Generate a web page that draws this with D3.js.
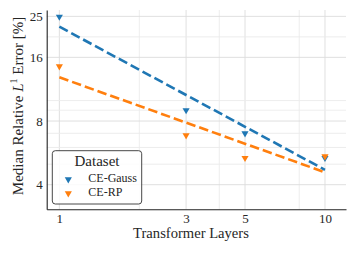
<!DOCTYPE html>
<html>
<head>
<meta charset="utf-8">
<script src="https://cdn.jsdelivr.net/npm/d3@7"></script>
<style>
  body { margin: 0; background: #fff; }
  text { font-family: "Liberation Serif", "DejaVu Serif", serif; fill: #262626; }
</style>
</head>
<body>
<svg id="chart" width="356" height="253"></svg>
<script>
// data
const layers = [1, 3, 5, 10];
const gaussErr = [24.9, 9.0, 7.0, 5.35];
const rpErr = [14.5, 6.85, 5.35, 5.45];
const seriesNames = ["CE-Gauss", "CE-RP"];
const seriesColors = ["#1f77b4", "#ff7f0e"];
const xTicks = [1, 3, 5, 10];
const xGrid = [1, 2, 3, 4, 5, 8, 10];
const yTicks = [4, 8, 16, 25];
const yGrid = [4, 5, 6, 7, 8, 9, 10, 16, 20, 25];

const svg = d3.select("#chart");

const plot = {left: 46.7, right: 346, top: 10, bottom: 209.3};

const x = d3.scaleLog()
    .domain([0.896, 12.0])
    .range([plot.left, plot.right]);

const y = d3.scaleLog()
    .domain([3.06, 26.8])
    .range([plot.bottom, plot.top]);

// grid
svg.append("g").selectAll("line")
    .data(xGrid)
    .enter().append("line")
    .attr("x1", d => x(d)).attr("x2", d => x(d))
    .attr("y1", plot.top).attr("y2", plot.bottom)
    .attr("stroke", d => xTicks.includes(d) ? "#dcdcdc" : "#ebebeb")
    .attr("stroke-width", 0.9);

svg.append("g").selectAll("line")
    .data(yGrid)
    .enter().append("line")
    .attr("x1", plot.left).attr("x2", plot.right)
    .attr("y1", d => y(d)).attr("y2", d => y(d))
    .attr("stroke", d => yTicks.includes(d) ? "#dcdcdc" : "#ebebeb")
    .attr("stroke-width", 0.9);

// axes (no tick marks, just labels)
const xAxis = svg.append("g")
    .attr("transform", `translate(0,${plot.bottom})`)
    .call(d3.axisBottom(x).tickValues(xTicks).tickFormat(d3.format("d")).tickSize(0).tickPadding(4.5));
xAxis.select(".domain").attr("stroke", "#222").attr("stroke-width", 1.1);
xAxis.selectAll("text").style("font-size", "13px").attr("fill", "#262626")
    .style("font-family", "Liberation Serif");

const yAxis = svg.append("g")
    .attr("transform", `translate(${plot.left},0)`)
    .call(d3.axisLeft(y).tickValues(yTicks).tickFormat(d3.format("d")).tickSize(0).tickPadding(4));
yAxis.select(".domain").attr("stroke", "#222").attr("stroke-width", 1.1);
yAxis.selectAll("text").style("font-size", "13px").attr("fill", "#262626")
    .style("font-family", "Liberation Serif");

// power-law fit lines in log-log space
function fitLine(xs, ys){
    const lx = xs.map(Math.log10), ly = ys.map(Math.log10);
    const mx = d3.mean(lx), my = d3.mean(ly);
    const slope = d3.sum(lx, (v, i) => (v - mx) * (ly[i] - my)) / d3.sum(lx, v => (v - mx) ** 2);
    const b = my - slope * mx;
    return [1, 10].map(v => [v, Math.pow(10, b + slope * Math.log10(v))]);
}

const series = [gaussErr, rpErr];
const line = d3.line().x(d => x(d[0])).y(d => y(d[1]));

series.forEach((vals, i) => {
    svg.append("path")
       .datum(fitLine(layers, vals))
       .attr("d", line)
       .attr("fill", "none")
       .attr("stroke", seriesColors[i])
       .attr("stroke-width", 2.6)
       .attr("stroke-dasharray", "9.5,4");
});

const tri = d3.symbol().type(d3.symbolTriangle).size(22);

series.forEach((vals, i) => {
    svg.append("g").selectAll("path")
       .data(vals)
       .enter().append("path")
       .attr("d", tri)
       .attr("transform", (d, j) => `translate(${x(layers[j])},${y(d)}) rotate(180)`)
       .attr("fill", seriesColors[i]);
});

// legend
const legend = svg.append("g").attr("transform", "translate(52.3,150.7)");
legend.append("rect")
      .attr("width", 89.4).attr("height", 53.3)
      .attr("rx", 3)
      .attr("fill", "rgba(255,255,255,0.85)")
      .attr("stroke", "#333")
      .attr("stroke-width", 0.9);
legend.append("text")
      .attr("x", 44.7).attr("y", 15)
      .attr("text-anchor", "middle")
      .style("font-size", "15px")
      .text("Dataset");
seriesNames.forEach((name, i) => {
    legend.append("path")
          .attr("d", tri)
          .attr("transform", `translate(16,${28.6 + i * 14}) rotate(180)`)
          .attr("fill", seriesColors[i]);
    legend.append("text")
          .attr("x", 36).attr("y", 31 + i * 14)
          .style("font-size", "12px")
          .text(name);
});

// axis titles
svg.append("text")
   .attr("x", 191).attr("y", 238.3)
   .attr("text-anchor", "middle")
   .style("font-size", "14.6px")
   .text("Transformer Layers");

const yl = svg.append("text")
   .attr("transform", "translate(22.5,106) rotate(-90)")
   .attr("text-anchor", "middle")
   .style("font-size", "15px");
yl.append("tspan").text("Median Relative ");
yl.append("tspan").style("font-style", "italic").text("L");
yl.append("tspan").attr("dy", -6).style("font-size", "10px").text("1");
yl.append("tspan").attr("dy", 6).text(" Error [%]");
</script>
</body>
</html>
